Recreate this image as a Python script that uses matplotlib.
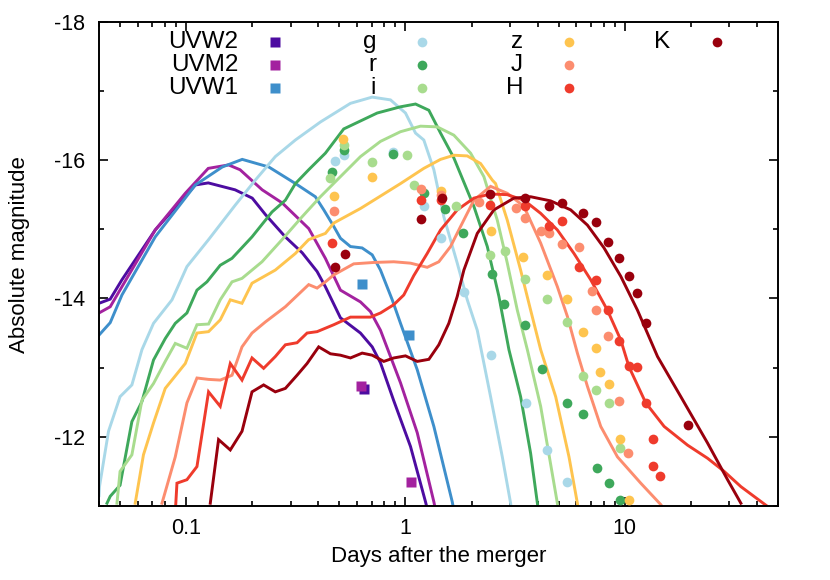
import matplotlib
matplotlib.use("Agg")
import matplotlib.pyplot as plt
from matplotlib.ticker import LogLocator, FixedLocator, NullFormatter, FixedFormatter

plt.rcParams['font.family'] = ['Liberation Sans', 'DejaVu Sans']

# ---------------- model light curves (lines) ----------------
uvw2_line_t = [0.040, 0.045, 0.0509, 0.0722, 0.110, 0.126, 0.167, 0.200, 0.230, 0.283, 0.338, 0.395, 0.431,
               0.505, 0.623, 0.705, 0.769, 0.882, 1.054, 1.234, 1.27]
uvw2_line_m = [-13.93, -13.99, -14.27, -14.99, -15.64, -15.67, -15.57, -15.45, -15.21, -14.89, -14.66, -14.39,
               -14.17, -13.72, -13.50, -13.30, -13.07, -12.53, -11.86, -11.06, -10.9]

uvm2_line_t = [0.040, 0.045, 0.0509, 0.0722, 0.099, 0.126, 0.156, 0.176, 0.222, 0.274, 0.362, 0.431, 0.505,
               0.623, 0.692, 0.769, 0.949, 1.131, 1.347, 1.38]
uvm2_line_m = [-13.79, -13.88, -14.17, -14.99, -15.52, -15.88, -15.93, -15.86, -15.57, -15.38, -15.01, -14.58,
               -14.12, -13.95, -13.81, -13.54, -12.78, -12.06, -11.06, -10.9]

uvw1_line_t = [0.040, 0.045, 0.0509, 0.0722, 0.110, 0.146, 0.180, 0.238, 0.315, 0.388, 0.424, 0.471, 0.505,
               0.561, 0.634, 0.705, 0.769, 0.870, 0.949, 1.131, 1.347, 1.634, 1.67]
uvw1_line_m = [-13.47, -13.65, -14.05, -14.89, -15.64, -15.90, -16.01, -15.90, -15.66, -15.47, -15.28, -15.04,
               -14.87, -14.75, -14.73, -14.63, -14.41, -13.98, -13.64, -12.97, -12.15, -11.06, -10.9]

g_line_t = [0.0400, 0.0402, 0.0442, 0.0499, 0.0565, 0.0628, 0.0709, 0.0861, 0.1007, 0.1264, 0.1674, 0.2065,
            0.2548, 0.3146, 0.4091, 0.5609, 0.7046, 0.854, 1.0, 1.111, 1.212, 1.347, 1.496, 1.722, 1.913,
            2.125, 2.444, 2.764, 3.016, 3.05]
g_line_m = [-11.15, -11.28, -12.08, -12.58, -12.75, -13.26, -13.64, -13.98, -14.46, -14.85, -15.35, -15.71,
            -16.05, -16.29, -16.55, -16.82, -16.91, -16.87, -16.68, -16.39, -16.29, -15.86, -15.18, -14.51,
            -13.98, -13.54, -12.58, -11.71, -11.04, -10.9]

r_line_t = [0.0435, 0.0450, 0.0499, 0.0565, 0.0628, 0.0709, 0.0802, 0.0891, 0.1007, 0.1119, 0.1243, 0.1429,
            0.1617, 0.1995, 0.2461, 0.2832, 0.3146, 0.3618, 0.4312, 0.5227, 0.7426, 0.9488, 1.111, 1.278,
            1.445, 1.662, 2.051, 2.361, 2.667, 2.963, 3.350, 3.722, 3.995, 4.05]
r_line_m = [-11.04, -11.14, -11.30, -12.22, -12.51, -13.11, -13.42, -13.64, -13.79, -14.12, -14.24, -14.48,
            -14.58, -14.89, -15.25, -15.42, -15.66, -15.86, -16.10, -16.45, -16.68, -16.77, -16.81, -16.72,
            -16.39, -16.03, -15.33, -14.75, -14.03, -13.26, -12.58, -11.76, -11.04, -10.9]

i_line_t = [0.0483, 0.0499, 0.0565, 0.0628, 0.0709, 0.0802, 0.0891, 0.1007, 0.1119, 0.1264, 0.1429, 0.1617,
            0.1796, 0.2216, 0.2735, 0.3375, 0.4091, 0.5047, 0.6231, 0.7690, 0.9488, 1.171, 1.395, 1.662,
            1.981, 2.278, 2.623, 2.913, 3.236, 3.595, 4.135, 4.928, 5.0]
i_line_m = [-11.04, -11.50, -11.74, -12.53, -12.77, -13.09, -13.35, -13.28, -13.62, -13.63, -13.98, -14.24,
            -14.29, -14.53, -14.85, -15.18, -15.47, -15.76, -16.05, -16.27, -16.41, -16.49, -16.48, -16.36,
            -16.10, -15.76, -15.13, -14.51, -13.83, -13.26, -12.44, -11.04, -10.9]

z_line_t = [0.0585, 0.0638, 0.0709, 0.0802, 0.0990, 0.1119, 0.1264, 0.1429, 0.1588, 0.1796, 0.1995, 0.2548,
            0.3146, 0.3618, 0.4312, 0.4707, 0.6231, 0.7426, 0.9488, 1.212, 1.445, 1.662, 1.913, 2.200, 2.489,
            2.576, 2.913, 3.350, 3.722, 4.135, 4.841, 5.568, 6.081, 6.15]
z_line_m = [-11.04, -11.74, -12.20, -12.70, -13.06, -13.50, -13.52, -13.69, -13.98, -13.93, -14.22, -14.41,
            -14.65, -14.85, -14.94, -15.09, -15.30, -15.45, -15.66, -15.88, -16.01, -16.07, -16.06, -15.95,
            -15.71, -15.66, -15.13, -14.41, -13.83, -13.26, -12.58, -11.71, -11.04, -10.9]

J_line_t = [0.0775, 0.0891, 0.1007, 0.1119, 0.1264, 0.1429, 0.1617, 0.1796, 0.1995, 0.2295, 0.2832, 0.3618,
            0.3953, 0.4312, 0.4707, 0.5805, 0.7166, 0.8843, 1.054, 1.256, 1.419, 1.605, 1.783, 2.051, 2.444,
            2.913, 3.469, 4.135, 4.928, 5.475, 6.081, 6.756, 7.771, 9.262, 11.83, 14.60, 14.9]
J_line_m = [-11.04, -11.71, -12.49, -12.85, -12.83, -12.82, -12.89, -13.30, -13.50, -13.66, -13.88, -14.20,
            -14.15, -14.24, -14.34, -14.50, -14.52, -14.53, -14.51, -14.45, -14.53, -14.75, -15.04, -15.42,
            -15.62, -15.52, -15.33, -14.80, -14.17, -13.74, -13.21, -12.73, -12.15, -11.71, -11.33, -11.02,
            -10.98]

H_line_t = [0.0891, 0.0907, 0.1007, 0.1119, 0.1264, 0.1429, 0.1588, 0.1796, 0.1995, 0.2254, 0.2548, 0.2832,
            0.3202, 0.3557, 0.3953, 0.4707, 0.5609, 0.6920, 0.7690, 0.8843, 0.9822, 1.091, 1.256, 1.445,
            1.722, 2.051, 2.444, 2.913, 3.469, 4.135, 4.928, 5.867, 6.994, 8.337, 9.588, 10.46, 12.47, 15.12,
            19.33, 23.86, 28.41, 33.86, 44.52]
H_line_m = [-10.9, -11.33, -11.38, -11.57, -12.65, -12.44, -13.06, -12.82, -13.14, -12.99, -13.16, -13.33,
            -13.36, -13.50, -13.52, -13.62, -13.73, -13.73, -13.79, -13.91, -14.05, -14.33, -14.65, -14.99,
            -15.28, -15.45, -15.51, -15.50, -15.42, -15.23, -14.99, -14.65, -14.27, -13.83, -13.40, -13.01,
            -12.49, -12.15, -11.88, -11.69, -11.50, -11.28, -11.0]

K_line_t = [0.1287, 0.1404, 0.1588, 0.1796, 0.1995, 0.2254, 0.2548, 0.2832, 0.3202, 0.3557, 0.4018, 0.4546,
            0.5047, 0.5609, 0.6344, 0.7046, 0.7963, 0.8843, 1.0, 1.131, 1.278, 1.419, 1.576, 1.722, 1.846,
            2.125, 2.530, 3.123, 3.722, 4.592, 5.668, 6.756, 8.046, 9.588, 11.43, 14.11, 18.02, 23.86, 29.44,
            33.86]
K_line_m = [-11.04, -11.96, -11.81, -12.08, -12.65, -12.75, -12.65, -12.70, -12.89, -13.06, -13.30, -13.20,
            -13.18, -13.14, -13.21, -13.18, -13.09, -13.14, -13.17, -13.09, -13.12, -13.33, -13.64, -14.03,
            -14.41, -14.94, -15.28, -15.45, -15.47, -15.41, -15.28, -15.06, -14.73, -14.32, -13.83, -13.16,
            -12.58, -11.91, -11.38, -11.04]

# ---------------- observed photometry (points) ----------------
uvw2_obs_t = [0.645]
uvw2_obs_m = [-12.69]
uvm2_obs_t = [0.628, 1.062]
uvm2_obs_m = [-12.74, -11.34]
uvw1_obs_t = [0.634, 1.035]
uvw1_obs_m = [-14.21, -13.47]

g_obs_t = [0.476, 0.523, 0.879, 1.212, 1.445, 1.846, 2.444, 3.532, 4.436, 5.435]
g_obs_m = [-15.98, -16.07, -16.11, -15.34, -14.88, -14.10, -13.18, -12.49, -11.81, -11.35]

r_obs_t = [0.463, 0.523, 0.879, 1.212, 1.512, 1.834, 2.470, 2.811, 3.506, 4.178, 5.435, 6.450, 7.507,
           8.478, 9.489]
r_obs_m = [-15.83, -16.14, -16.09, -15.53, -15.30, -14.94, -14.35, -13.92, -13.62, -12.98, -12.49, -12.33,
           -11.55, -11.33, -11.08]

i_obs_t = [0.451, 0.523, 0.700, 1.018, 1.091, 1.692, 2.426, 2.832, 3.506, 4.436, 5.435, 6.450, 7.429,
           8.478, 9.489]
i_obs_m = [-15.74, -16.22, -15.97, -16.07, -15.64, -15.34, -14.63, -14.68, -14.28, -13.99, -13.66, -12.88,
           -12.67, -12.49, -11.84]

z_obs_t = [0.471, 0.520, 0.700, 1.445, 2.444, 3.447, 4.436, 5.435, 6.450, 7.429, 7.716, 8.478, 9.489, 10.46]
z_obs_m = [-15.48, -16.30, -15.75, -15.56, -14.98, -14.60, -14.34, -13.99, -13.52, -13.28, -12.94, -12.76,
           -11.97, -11.09]

J_obs_t = [0.471, 1.171, 1.445, 2.162, 3.180, 3.506, 4.165, 4.512, 5.194, 6.184, 7.121, 7.429, 8.425,
           9.419, 10.39]
J_obs_m = [-15.27, -15.58, -15.50, -15.40, -15.31, -15.16, -14.97, -14.94, -14.79, -14.74, -14.11, -13.83,
           -13.46, -12.52, -11.76]

H_obs_t = [0.460, 1.171, 1.445, 2.426, 3.506, 4.512, 5.194, 6.184, 7.429, 8.425, 9.419, 10.46, 11.43,
           12.47, 13.43, 13.43, 14.45]
H_obs_m = [-14.80, -15.42, -15.42, -15.35, -15.34, -15.04, -15.12, -14.46, -14.27, -13.84, -13.39, -13.02,
           -13.01, -12.49, -11.97, -11.58, -11.43]

K_obs_t = [0.476, 0.528, 1.171, 1.460, 2.426, 3.506, 4.512, 5.194, 6.450, 7.429, 8.425, 9.419, 10.46,
           11.43, 12.47, 19.33]
K_obs_m = [-14.45, -14.64, -15.15, -15.45, -15.51, -15.45, -15.34, -15.38, -15.23, -15.11, -14.81, -14.58,
           -14.33, -14.08, -13.64, -12.17]

band_names = ['UVW2', 'UVM2', 'UVW1', 'g', 'r', 'i', 'z', 'J', 'H', 'K']
band_colors = ['#4d0ca1', '#a3229f', '#3e8fcb', '#a9d8e8', '#3ea85b',
               '#a8dc8e', '#fec44f', '#fc8d6f', '#ef3b2c', '#99000d']
band_markers = ['s', 's', 's', 'o', 'o', 'o', 'o', 'o', 'o', 'o']

lines = [(uvw2_line_t, uvw2_line_m), (uvm2_line_t, uvm2_line_m), (uvw1_line_t, uvw1_line_m),
         (g_line_t, g_line_m), (r_line_t, r_line_m), (i_line_t, i_line_m), (z_line_t, z_line_m),
         (J_line_t, J_line_m), (H_line_t, H_line_m), (K_line_t, K_line_m)]
obs = [(uvw2_obs_t, uvw2_obs_m), (uvm2_obs_t, uvm2_obs_m), (uvw1_obs_t, uvw1_obs_m),
       (g_obs_t, g_obs_m), (r_obs_t, r_obs_m), (i_obs_t, i_obs_m), (z_obs_t, z_obs_m),
       (J_obs_t, J_obs_m), (H_obs_t, H_obs_m), (K_obs_t, K_obs_m)]

fig = plt.figure(figsize=(8.3, 5.8), dpi=100)
ax = fig.add_axes([99 / 830, 1 - 506 / 580, 679 / 830, 484.3 / 580])

for (t, m), c in zip(lines, band_colors):
    ax.plot(t, m, '-', color=c, lw=2.1, zorder=2, solid_joinstyle='miter')

for (t, m), c, mk in zip(obs, band_colors, band_markers):
    ms = 7.8 if mk == 's' else 7.0
    ax.plot(t, m, linestyle='none', marker=mk, ms=ms, color=c, mec='none', zorder=3)

ax.set_xscale('log')
ax.set_xlim(0.04, 50)
ax.set_ylim(-11, -18)

ax.xaxis.set_major_locator(FixedLocator([0.1, 1, 10]))
ax.xaxis.set_major_formatter(FixedFormatter(['0.1', '1', '10']))
ax.xaxis.set_minor_locator(LogLocator(base=10, subs=range(2, 10)))
ax.xaxis.set_minor_formatter(NullFormatter())
ax.yaxis.set_major_locator(FixedLocator([-18, -16, -14, -12]))
ax.yaxis.set_major_formatter(FixedFormatter(['-18', '-16', '-14', '-12']))
ax.yaxis.set_minor_locator(FixedLocator([-17, -15, -13, -11]))

ax.tick_params(which='both', direction='in', top=True, right=True, width=1.2, colors='black')
ax.tick_params(which='major', length=6.5)
ax.tick_params(which='minor', length=3.5)
ax.tick_params(axis='x', which='major', labelsize=15.5, pad=9)
ax.tick_params(axis='y', which='major', labelsize=15.5, pad=10)
for sp in ax.spines.values():
    sp.set_linewidth(1.4)

ax.set_xlabel('Days after the merger', fontsize=16)
ax.set_ylabel('Absolute magnitude', fontsize=16)
ax.xaxis.set_label_coords(0.5, -0.083)
ax.yaxis.set_label_coords(-0.102, 0.52)

# gnuplot-style key: right-aligned label followed by its symbol
leg_text_x = [238, 238, 238, 376, 376, 376, 523, 523, 523, 670]
leg_mark_x = [275, 275, 275, 421.7, 421.7, 421.7, 569.3, 569.3, 569.3, 716.7]
leg_y = [41.7, 65, 88.3, 41.7, 65, 88.3, 41.7, 65, 88.3, 41.7]
for name, c, mk, tx, mx, yy in zip(band_names, band_colors, band_markers, leg_text_x, leg_mark_x, leg_y):
    fy = 1 - (yy - 21.7) / 484.3
    ax.text((tx - 99) / 679, fy, name, transform=ax.transAxes, ha='right', va='center', fontsize=17.5)
    ms = 7.8 if mk == 's' else 7.0
    ax.plot([(mx - 99) / 679], [fy], marker=mk, ms=ms, color=c, mec='none',
            transform=ax.transAxes, clip_on=False, linestyle='none')

fig.savefig('out.png', dpi=100)
